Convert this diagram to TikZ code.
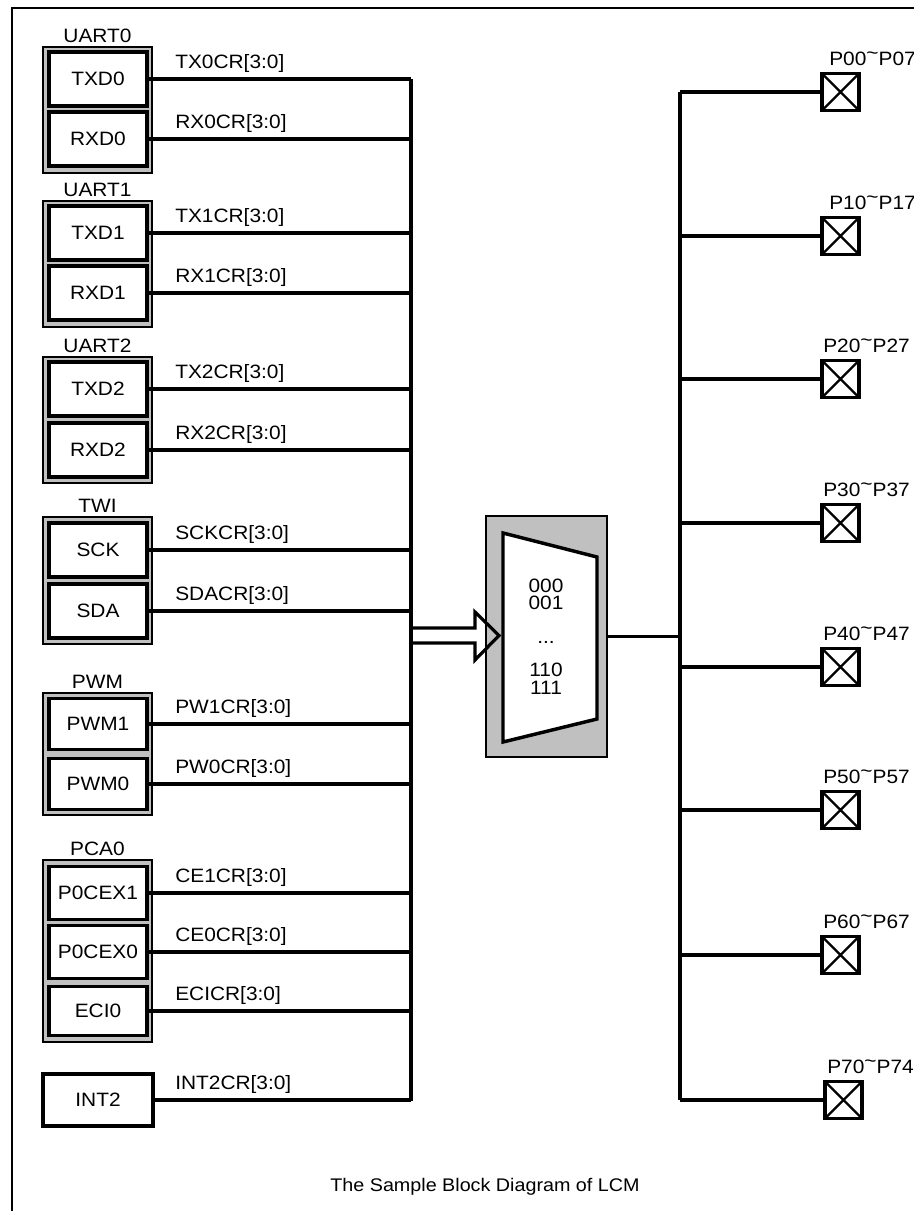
\documentclass[tikz,border=0pt]{standalone}
\usepackage{fontspec}
\setmainfont[FakeStretch=1.08]{Liberation Sans}
\definecolor{panelgray}{HTML}{C0C0C0}
\newcommand\hitilde{\raisebox{0.3em}{\textasciitilde}}
\tikzset{
  wire/.style={line width=2.6pt},
  grp/.style={draw, line width=2.2pt, fill=panelgray, minimum width=81.75pt, inner sep=0pt},
  sigbox/.style={draw, line width=2.6pt, fill=white, minimum width=73.5pt, inner sep=0pt},
  padbox/.style={draw, line width=2.6pt, fill=white, minimum width=27.75pt, minimum height=27.75pt, inner sep=0pt,
    path picture={\draw[line width=1.8pt] (path picture bounding box.south west) -- (path picture bounding box.north east)
      (path picture bounding box.north west) -- (path picture bounding box.south east);}},
  lbl/.style={anchor=base west, inner sep=0pt},
  glbl/.style={anchor=base, inner sep=0pt},
}
\begin{document}
\begin{tikzpicture}[x=0.75pt, y=-0.75pt, font=\fontsize{14.5}{17}\selectfont]
\useasboundingbox (0,0) rectangle (914,1211);
% frame
\draw[line width=2pt] (12,1211) -- (12,8) -- (914,8);

% buses
\coordinate (lbtop) at (411,79);
\coordinate (lbbot) at (411,1101);
\coordinate (rbtop) at (680,92);
\coordinate (rbbot) at (680,1100);

% groups
\foreach \g/\t/\c/\h/\ly in {uart0/UART0/110/126/42, uart1/UART1/264/126/196, uart2/UART2/420/126/352,
    twi/TWI/580.5/127/512, pwm/PWM/754/122/688, pca/PCA0/951/182/855}{
  \node[grp, minimum height=\h*0.75pt] (\g) at (97.5,\c) {};
  \node[glbl] (\g lbl) at (97.5,\ly) {\t};
}

% signal boxes and wires
\foreach \n/\t/\y/\h/\s in {txd0/TXD0/79/54/{TX0CR[3:0]}, rxd0/RXD0/139/54/{RX0CR[3:0]},
    txd1/TXD1/233/54/{TX1CR[3:0]}, rxd1/RXD1/293/54/{RX1CR[3:0]},
    txd2/TXD2/389/54/{TX2CR[3:0]}, rxd2/RXD2/450/54/{RX2CR[3:0]},
    sck/SCK/550/54/{SCKCR[3:0]}, sda/SDA/611/54/{SDACR[3:0]},
    pwma/PWM1/724/51/{PW1CR[3:0]}, pwmb/PWM0/784/51/{PW0CR[3:0]},
    cexa/P0CEX1/893/53/{CE1CR[3:0]}, cexb/P0CEX0/952/53/{CE0CR[3:0]}, eci/ECI0/1011/49/{ECICR[3:0]}}{
  \node[sigbox, minimum height=\h*0.75pt] (\n) at (98,\y) {\t};
  \draw[wire] (\n.east) -- (\n.east -| lbtop);
  \node[lbl] (\n lbl) at (175,\y-11) {\s};
}
\node[sigbox, line width=2.4pt, minimum width=82.5pt, minimum height=39pt] (int2) at (98,1100) {INT2};
\draw[wire] (int2.east) -- (int2.east -| lbtop);
\node[lbl] (int2lbl) at (175,1089) {INT2CR[3:0]};
\draw[wire, line join=miter] (lbtop) -- (lbbot);

% mux
\node[draw, line width=2.2pt, fill=panelgray, minimum width=90.75pt, minimum height=180.75pt, inner sep=0pt] (muxbox) at (546.5,636.5) {};
\draw[line width=2.6pt, fill=white, line join=miter] (503,533) -- (597,557) -- (597,719) -- (503,742) -- cycle;
\node[glbl] (m0) at (546,592) {000};
\node[glbl] (m1) at (546,609) {001};
\node[glbl] (m2) at (546,643) {...};
\node[glbl] (m3) at (546,676) {110};
\node[glbl] (m4) at (546,694) {111};

% hollow arrow from bus into mux
\draw[line width=2.4pt, line join=miter] (411,628) -- (475,628) -- (475,612) -- (499,635.5) -- (475,660) -- (475,643) -- (411,643);

% output bus
\draw[wire] (muxbox.east) -- (muxbox.east -| rbtop);
\draw[wire, line join=miter] (rbtop) -- (rbbot);

% pads
\foreach \n/\t/\y/\lx/\bx in {p0/{P00\hitilde P07}/92/829/822, p1/{P10\hitilde P17}/236/829/822,
    p2/{P20\hitilde P27}/379/823/822, p3/{P30\hitilde P37}/523/823/822,
    p4/{P40\hitilde P47}/667/823/822, p5/{P50\hitilde P57}/810/823/822,
    p6/{P60\hitilde P67}/955/823/822, p7/{P70\hitilde P74}/1100/827/825}{
  \node[padbox] (\n) at (\bx+18.5,\y) {};
  \draw[wire] (\n.west -| rbtop) -- (\n.west);
  \node[lbl] (\n lbl) at (\lx,\y-27) {\t};
}

% caption
\node[font=\fontsize{13.7}{16}\selectfont] (caption) at (485,1187) {The Sample Block Diagram of LCM};
\end{tikzpicture}
\end{document}
